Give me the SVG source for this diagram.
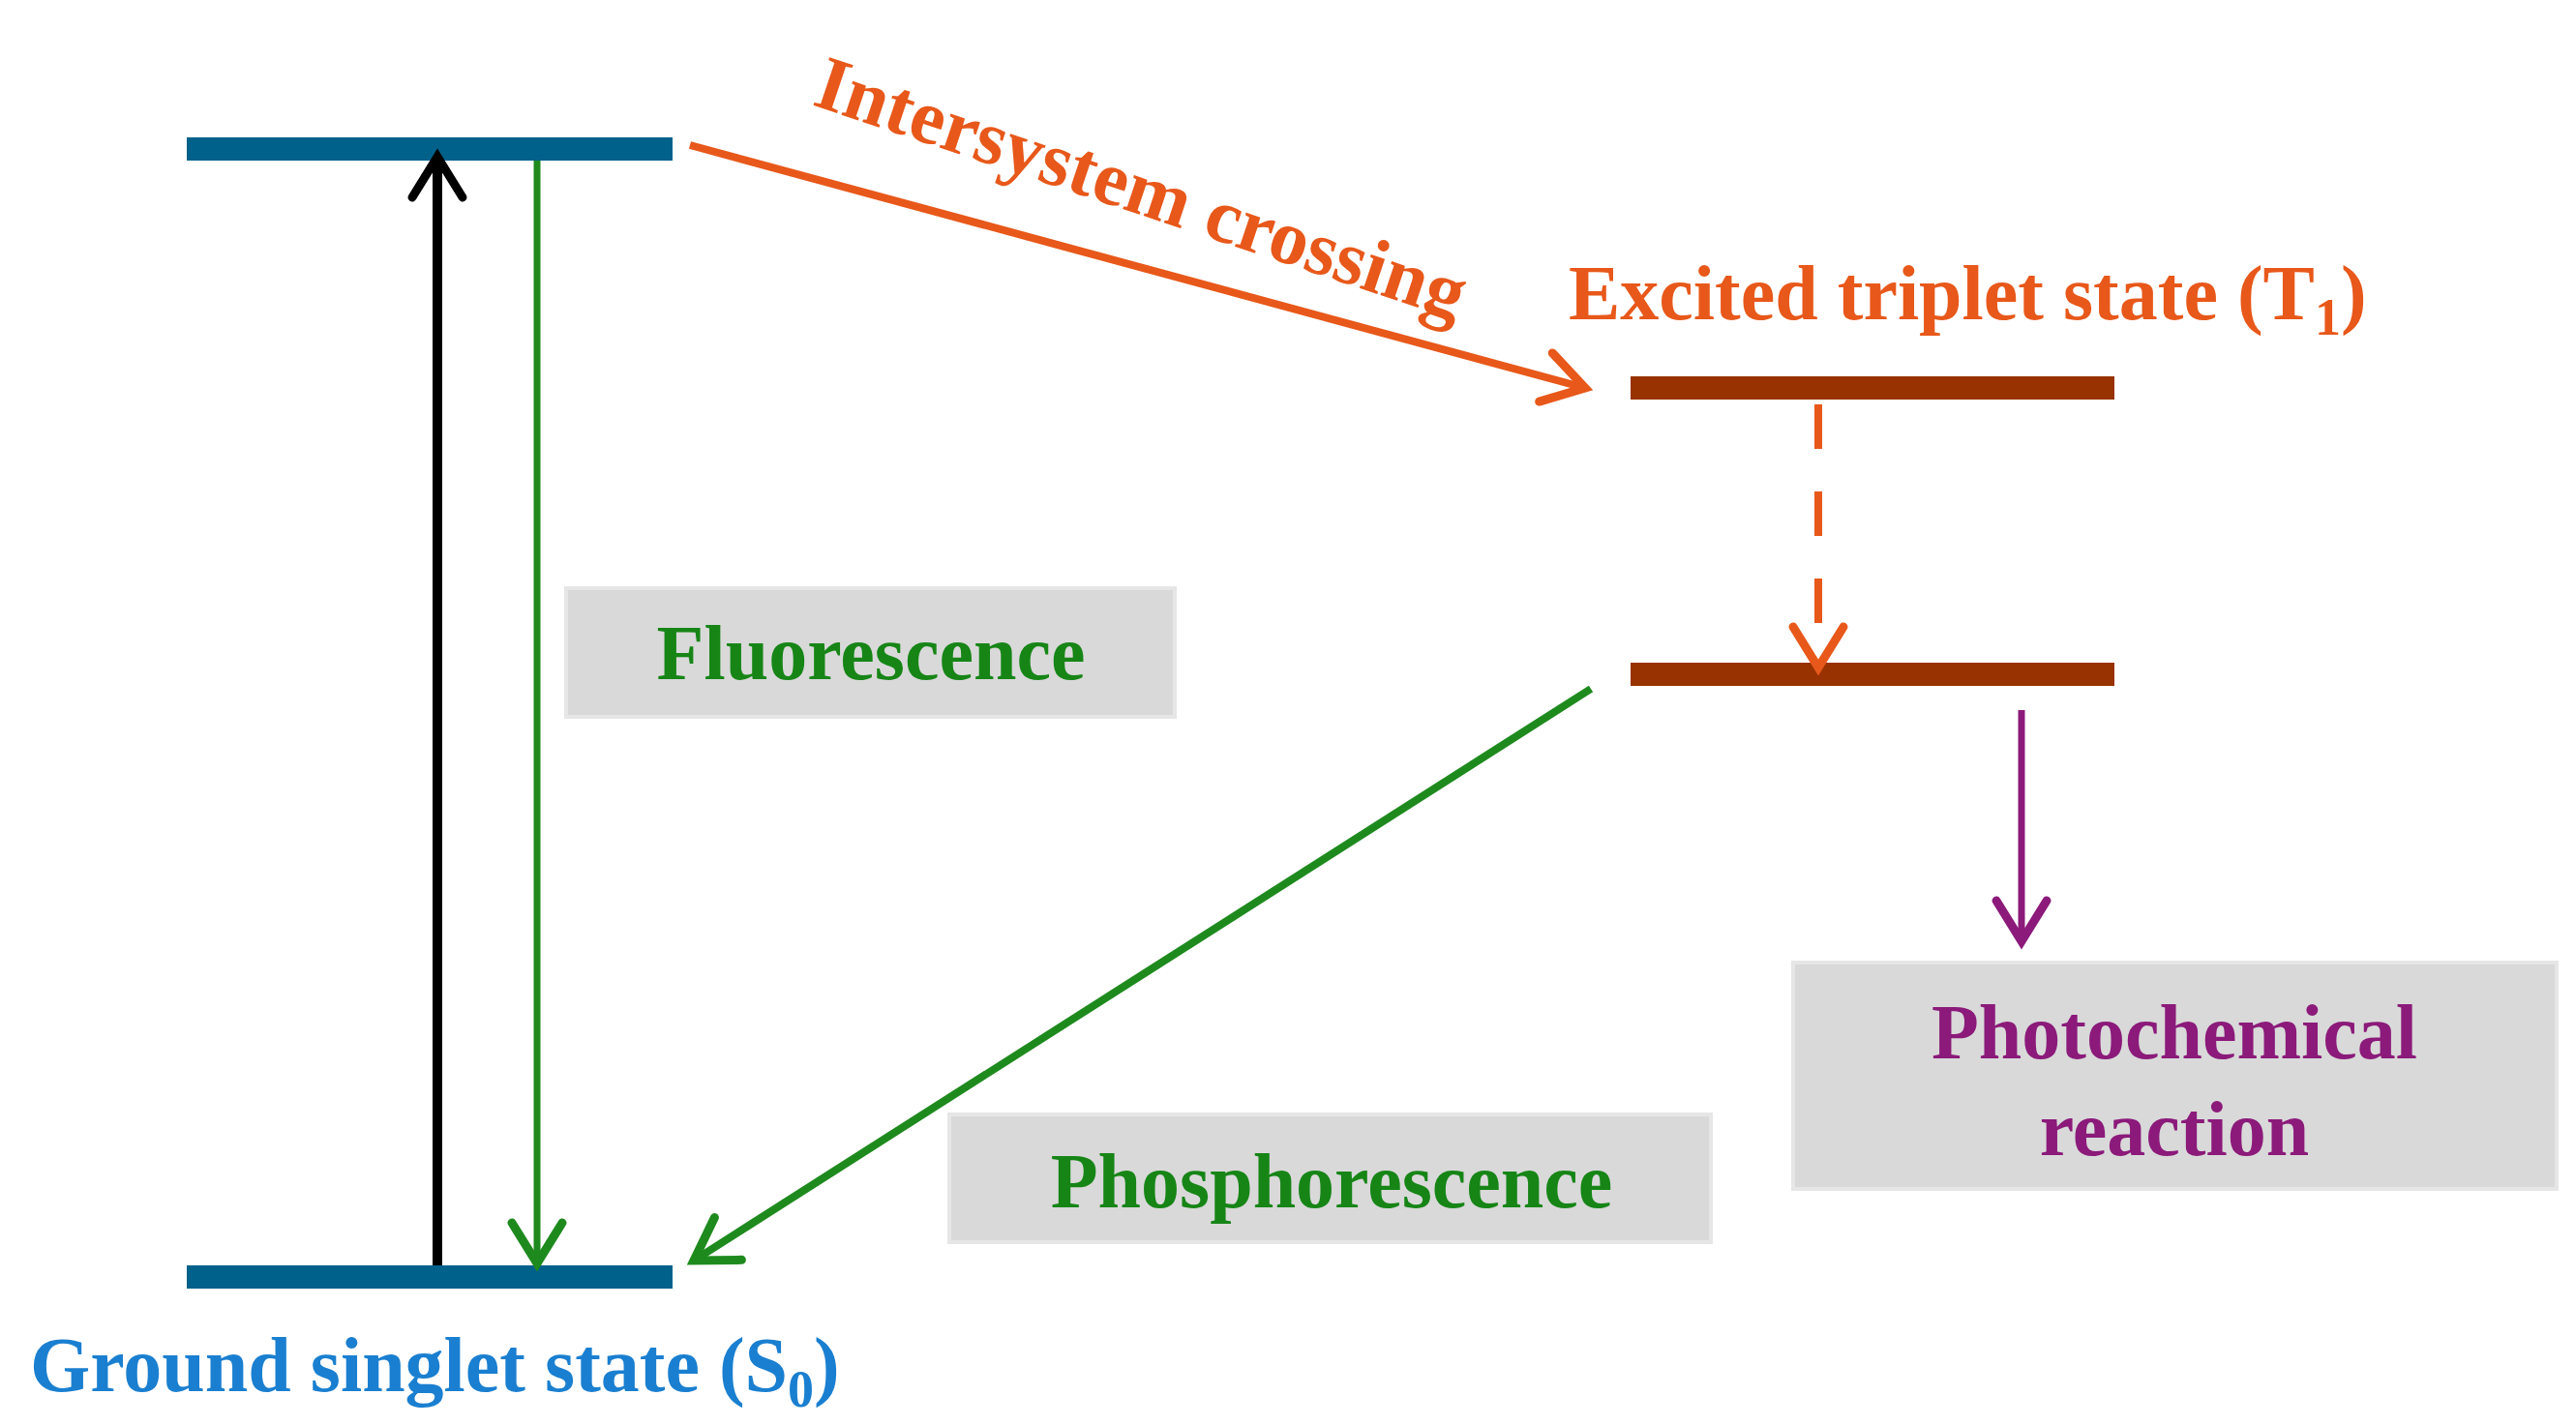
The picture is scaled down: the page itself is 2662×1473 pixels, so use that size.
<svg xmlns="http://www.w3.org/2000/svg" width="2662" height="1473" viewBox="0 0 2662 1473">
<style>
text{font-family:"Liberation Serif","Times New Roman",serif;font-weight:bold;font-size:80px}
.box{fill:#d9d9d9;stroke:#e6e6e6;stroke-width:4}
.ln{fill:none;stroke-linecap:butt}
</style>
<defs>
<marker id="ah" viewBox="-12 -10 14 20" markerWidth="14" markerHeight="20" refX="0" refY="0" orient="auto" markerUnits="userSpaceOnUse" overflow="visible">
<path d="M-42,-26 L0,0 L-42,26" fill="none" stroke="context-stroke" stroke-width="9" stroke-linecap="round" stroke-linejoin="miter"/>
</marker>
</defs>
<g id="S1"><rect x="193" y="142" width="502" height="24" fill="#00618a"/></g>
<g id="S0"><rect x="193" y="1308" width="502" height="24" fill="#00618a"/>
<text x="31" y="1438" fill="#1a7fd0">Ground singlet state (S<tspan font-size="54" dy="16">0</tspan><tspan dy="-16">)</tspan></text></g>
<g id="T1a"><rect x="1685" y="389" width="500" height="24" fill="#983200"/>
<text x="1621" y="330" fill="#e8581a">Excited triplet state (T<tspan font-size="54" dy="16">1</tspan><tspan dy="-16">)</tspan></text></g>
<g id="T1b"><rect x="1685" y="685" width="500" height="24" fill="#983200"/></g>
<g id="fluor"><rect class="box" x="585" y="608" width="629" height="133"/><text x="900" y="702" fill="#168516" text-anchor="middle">Fluorescence</text></g>
<g id="phos"><rect class="box" x="981" y="1152" width="787" height="132"/><text x="1376" y="1248" fill="#168516" text-anchor="middle">Phosphorescence</text></g>
<g id="photo"><rect class="box" x="1853" y="995" width="789" height="234"/><text x="2247" y="1094" fill="#8b1a7a" text-anchor="middle">Photochemical</text><text x="2247" y="1194" fill="#8b1a7a" text-anchor="middle">reaction</text></g>
<g id="connectors">
<line class="ln" x1="452" y1="1308" x2="452" y2="162" stroke="#000" stroke-width="10" marker-end="url(#ah)"/>
<line class="ln" x1="555" y1="166" x2="555" y2="1306" stroke="#1e8a1e" stroke-width="7" marker-end="url(#ah)"/>
<line class="ln" x1="713" y1="150" x2="1638" y2="401" stroke="#e8581a" stroke-width="8" marker-end="url(#ah)"/>
<text transform="translate(838,108) rotate(18.5)" fill="#e8581a">Intersystem crossing</text>
<line class="ln" x1="1879" y1="418" x2="1879" y2="690" stroke="#e8581a" stroke-width="8" stroke-dasharray="46,44" marker-end="url(#ah)"/>
<line class="ln" x1="1644" y1="712" x2="717" y2="1303" stroke="#1e8a1e" stroke-width="8" marker-end="url(#ah)"/>
<line class="ln" x1="2089" y1="734" x2="2089" y2="973" stroke="#8b1a7a" stroke-width="7" marker-end="url(#ah)"/>
</g>
</svg>
